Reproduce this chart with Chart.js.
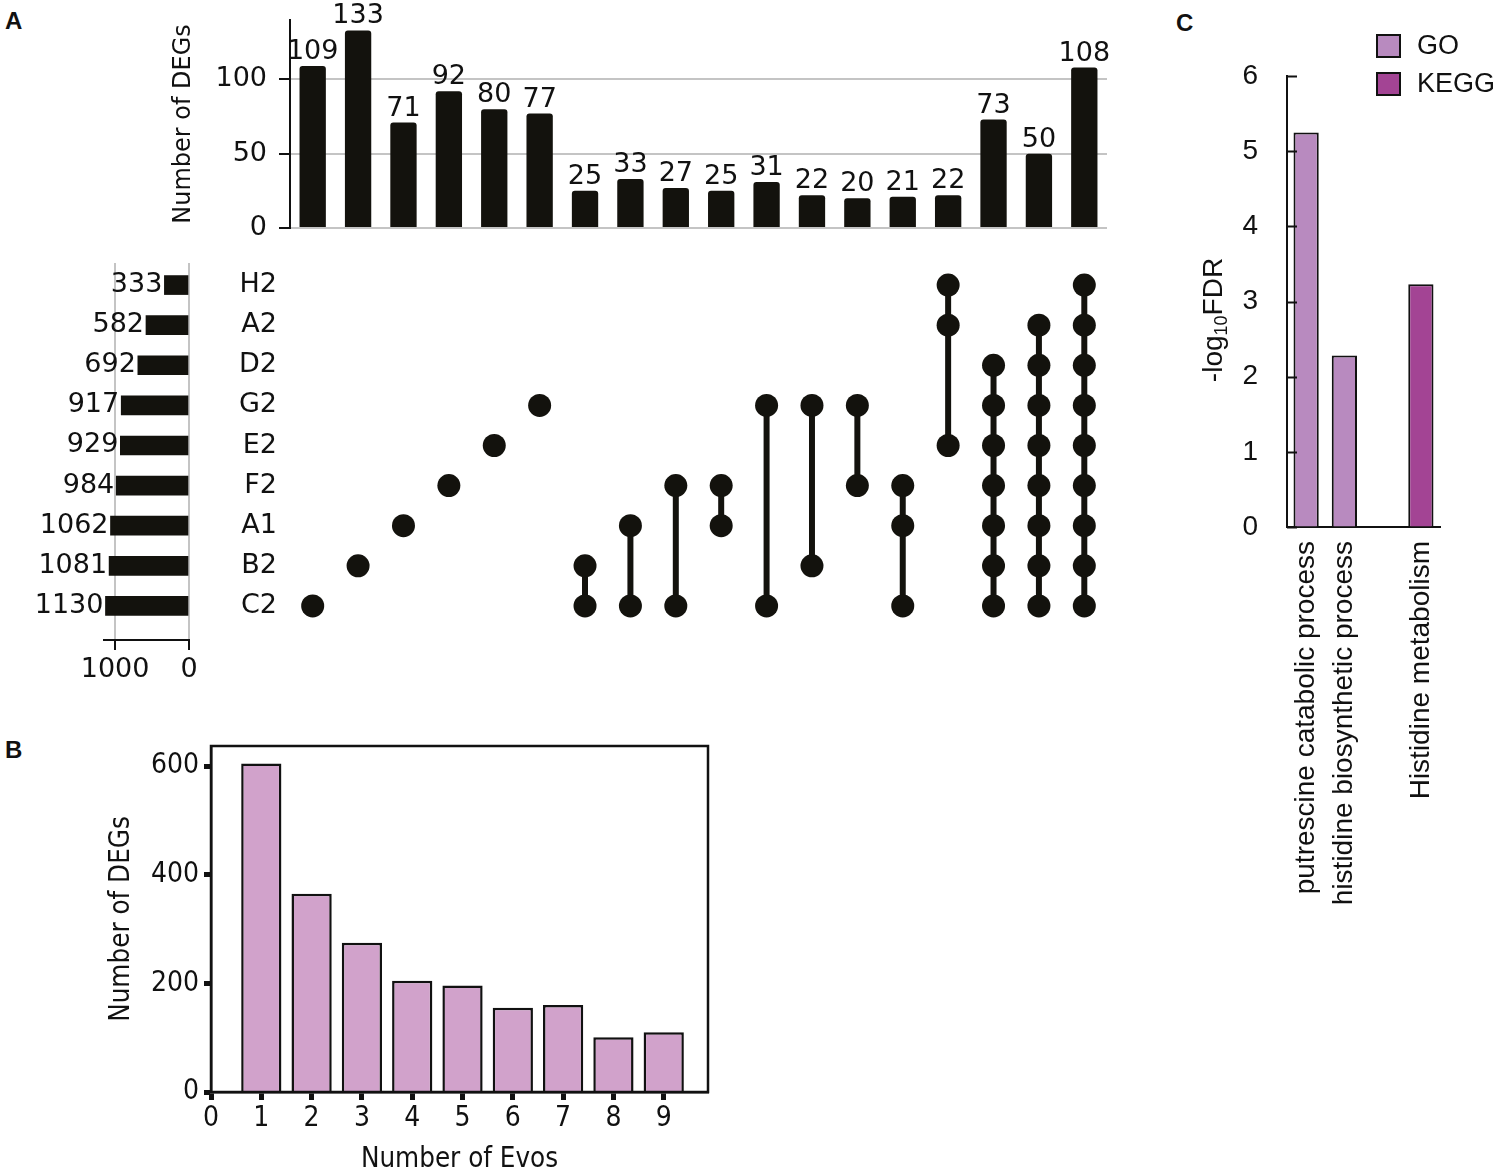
<!DOCTYPE html>
<html>
<head>
<meta charset="utf-8">
<script src="https://cdn.jsdelivr.net/npm/chart.js@4.4.1/dist/chart.umd.min.js"></script>
<style>
  body { margin: 0; background: #fff; width: 1500px; height: 1171px; position: relative; overflow: hidden; }
  canvas { position: absolute; }
  .panel { position: absolute; font: bold 24px "Liberation Sans", Arial, sans-serif; color: #111; }
</style>
</head>
<body>
<div class="panel" style="left:5px;top:7px">A</div>
<div class="panel" style="left:5px;top:736px">B</div>
<div class="panel" style="left:1176px;top:9px">C</div>

<canvas id="upset-bars" width="965" height="240" style="left:165px;top:0px"></canvas>
<canvas id="set-sizes" width="200" height="460" style="left:0px;top:240px"></canvas>
<canvas id="upset-matrix" width="930" height="420" style="left:200px;top:240px"></canvas>
<canvas id="evo-chart" width="730" height="446" style="left:0px;top:730px"></canvas>
<canvas id="enrich-chart" width="330" height="960" style="left:1170px;top:0px"></canvas>

<script>
// ---- panel A: intersections (left to right) ----
const combos = [
    ['C2'], ['B2'], ['A1'], ['F2'], ['E2'], ['G2'],
    ['B2', 'C2'], ['A1', 'C2'], ['F2', 'C2'], ['F2', 'A1'], ['G2', 'C2'], ['G2', 'B2'], ['G2', 'F2'],
    ['F2', 'A1', 'C2'], ['H2', 'A2', 'E2'],
    ['D2', 'G2', 'E2', 'F2', 'A1', 'B2', 'C2'],
    ['A2', 'D2', 'G2', 'E2', 'F2', 'A1', 'B2', 'C2'],
    ['H2', 'A2', 'D2', 'G2', 'E2', 'F2', 'A1', 'B2', 'C2']
];
const comboCounts = [109, 133, 71, 92, 80, 77, 25, 33, 27, 25, 31, 22, 20, 21, 22, 73, 50, 108];
const setNames = ['H2', 'A2', 'D2', 'G2', 'E2', 'F2', 'A1', 'B2', 'C2'];
const setSizes = [333, 582, 692, 917, 929, 984, 1062, 1081, 1130];
const countTicks = [0, 50, 100];
const sizeTicks = [1000, 0];

// ---- panel B ----
const evoCounts = [1, 2, 3, 4, 5, 6, 7, 8, 9];
const evoDegs = [605, 365, 275, 205, 196, 155, 160, 101, 110];
const evoTicks = [0, 1, 2, 3, 4, 5, 6, 7, 8, 9];
const degTicks = [0, 200, 400, 600];

// ---- panel C ----
const termLabels = ['putrescine catabolic process', 'histidine biosynthetic process', '', 'Histidine metabolism'];
const goValues = [5.25, 2.28, null, null];
const keggValues = [null, null, null, 3.23];

const INK = '#13120d';
const DEJAVU = '"DejaVu Sans", sans-serif';
const CONDENSED = '"DejaVu Sans Condensed", "Liberation Sans Narrow", "DejaVu Sans", sans-serif';
const ARIAL = '"Liberation Sans", Arial, sans-serif';

Chart.defaults.animation = false;
Chart.defaults.color = '#111';
Chart.defaults.plugins.legend.display = false;
Chart.defaults.plugins.tooltip.enabled = false;

// fixed axis sizes, and no extra room for labels hanging over the ends
const fixWidth = w => s => { s.width = w; s.paddingTop = 0; s.paddingBottom = 0; };
const fixHeight = h => s => { s.height = h; s.paddingLeft = 0; s.paddingRight = 0; };
const useTicks = list => s => { s.ticks = list.map(v => ({ value: v })); };

// value text on top of the intersection bars
const barValueLabels = {
    id: 'barValueLabels',
    afterDatasetsDraw(chart) {
        const c = chart.ctx;
        const meta = chart.getDatasetMeta(0);
        c.save();
        c.font = '27px ' + DEJAVU;
        c.fillStyle = '#111';
        c.textAlign = 'center';
        c.textBaseline = 'alphabetic';
        meta.data.forEach((el, i) => {
            c.fillText(comboCounts[i], el.x, el.y - 7);
        });
        c.restore();
    }
};

new Chart(document.getElementById('upset-bars'), {
    type: 'bar',
    data: {
        labels: comboCounts.map((_, i) => i + 1),
        datasets: [{
            data: comboCounts,
            backgroundColor: INK,
            barPercentage: 0.58,
            categoryPercentage: 1,
            borderRadius: 3
        }]
    },
    options: {
        responsive: false,
        layout: { padding: { top: 20, right: 23, bottom: 12, left: 0 } },
        scales: {
            x: { display: false },
            y: {
                min: 0,
                max: 140,
                afterBuildTicks: useTicks(countTicks),
                afterFit: fixWidth(125),
                ticks: { padding: 12, autoSkip: false, font: { size: 27, family: DEJAVU } },
                grid: { color: '#c4c4c4', lineWidth: 2, tickColor: '#111', tickWidth: 2, tickLength: 11 },
                border: { color: '#111', width: 2 },
                title: { display: true, text: 'Number of DEGs', font: { size: 24, family: DEJAVU } }
            }
        }
    },
    plugins: [barValueLabels]
});

// set size numbers left of the horizontal bars
const sizeLabels = {
    id: 'sizeLabels',
    afterDatasetsDraw(chart) {
        const c = chart.ctx;
        const meta = chart.getDatasetMeta(0);
        c.save();
        c.font = '27px ' + DEJAVU;
        c.fillStyle = '#111';
        c.textAlign = 'right';
        c.textBaseline = 'middle';
        meta.data.forEach((el, i) => {
            c.fillText(setSizes[i], el.x - 2, el.y);
        });
        c.restore();
    }
};

new Chart(document.getElementById('set-sizes'), {
    type: 'bar',
    data: {
        datasets: [{
            data: setSizes.map((v, i) => ({ x: v, y: i })),
            backgroundColor: INK,
            barThickness: 19
        }]
    },
    options: {
        responsive: false,
        indexAxis: 'y',
        layout: { padding: { top: 23, right: 11, bottom: 0, left: 104 } },
        scales: {
            y: { type: 'linear', reverse: true, min: -0.55, max: 8.85, offset: false, display: false },
            x: {
                type: 'linear',
                reverse: true,
                min: 0,
                max: 1150,
                afterBuildTicks: useTicks(sizeTicks),
                afterFit: fixHeight(60),
                ticks: { padding: 4, maxRotation: 0, autoSkip: false, callback: v => String(v), font: { size: 27, family: DEJAVU } },
                grid: { color: '#c4c4c4', lineWidth: 2, tickColor: '#111', tickWidth: 2, tickLength: 10 },
                border: { color: '#111', width: 2 }
            }
        }
    },
    plugins: [sizeLabels]
});

// dot matrix: one dataset per intersection, dots joined by a line
const matrixSets = combos.map((members, i) => ({
    data: members
        .slice()
        .sort((a, b) => setNames.indexOf(a) - setNames.indexOf(b))
        .map(name => ({ x: i, y: name })),
    showLine: true,
    borderColor: INK,
    borderWidth: 6,
    pointRadius: 11.5,
    pointBackgroundColor: INK,
    pointBorderWidth: 0
}));

new Chart(document.getElementById('upset-matrix'), {
    type: 'scatter',
    data: { datasets: matrixSets },
    options: {
        responsive: false,
        layout: { padding: { top: 25, right: 23, bottom: 34, left: 0 } },
        scales: {
            x: { type: 'linear', min: -0.5, max: 17.5, display: false },
            y: {
                type: 'category',
                labels: setNames,
                offset: true,
                afterFit: fixWidth(90),
                ticks: { padding: 13, autoSkip: false, font: { size: 27, family: DEJAVU } },
                grid: { display: false, drawTicks: false },
                border: { display: false }
            }
        }
    }
});

// ---- panel B ----
const boxFrame = {
    id: 'boxFrame',
    afterDraw(chart) {
        const { left, top, right, bottom } = chart.chartArea;
        const c = chart.ctx;
        c.save();
        c.strokeStyle = '#111';
        c.lineWidth = 2.5;
        c.strokeRect(left, top, right - left, bottom - top);
        c.restore();
    }
};

new Chart(document.getElementById('evo-chart'), {
    type: 'bar',
    data: {
        datasets: [{
            data: evoCounts.map((e, i) => ({ x: e, y: evoDegs[i] })),
            backgroundColor: '#d1a2cb',
            borderColor: '#111',
            borderWidth: 2.5,
            barPercentage: 0.8,
            categoryPercentage: 1
        }]
    },
    options: {
        responsive: false,
        layout: { padding: { top: 16, right: 22, bottom: 0, left: 101 } },
        scales: {
            x: {
                type: 'linear',
                min: 0,
                max: 9.88,
                offset: false,
                afterBuildTicks: useTicks(evoTicks),
                afterFit: fixHeight(84),
                ticks: { padding: 2, maxRotation: 0, autoSkip: false, font: { size: 28, family: CONDENSED } },
                grid: { offset: false, drawOnChartArea: false, tickColor: '#111', tickWidth: 5, tickLength: 8 },
                border: { color: '#111', width: 2.5 },
                title: { display: true, text: 'Number of Evos', padding: { top: 4, bottom: 0 }, font: { size: 27.5, family: CONDENSED } }
            },
            y: {
                min: 0,
                max: 637,
                afterBuildTicks: useTicks(degTicks),
                afterFit: fixWidth(110),
                ticks: { padding: 5, autoSkip: false, font: { size: 28, family: CONDENSED } },
                grid: { drawOnChartArea: false, tickColor: '#111', tickWidth: 5, tickLength: 7 },
                border: { color: '#111', width: 2.5 },
                title: { display: true, text: 'Number of DEGs', font: { size: 27.5, family: CONDENSED } }
            }
        }
    },
    plugins: [boxFrame]
});

// ---- panel C ----
const enrichDecor = {
    id: 'enrichDecor',
    afterDraw(chart) {
        const c = chart.ctx;
        const y = chart.scales.y;
        const left = chart.chartArea.left;
        c.save();
        // inward tick marks
        c.strokeStyle = '#111';
        c.lineWidth = 2;
        y.ticks.forEach(t => {
            const py = Math.round(y.getPixelForValue(t.value)) + 0.5;
            c.beginPath();
            c.moveTo(left, py);
            c.lineTo(left + 10, py);
            c.stroke();
        });
        // axis title with subscript
        c.translate(44, 320);
        c.rotate(-Math.PI / 2);
        c.fillStyle = '#111';
        c.textBaseline = 'middle';
        c.textAlign = 'left';
        const big = '28px ' + ARIAL, small = '18px ' + ARIAL;
        c.font = big; const w1 = c.measureText('-log').width; const w3 = c.measureText('FDR').width;
        c.font = small; const w2 = c.measureText('10').width;
        let x = -(w1 + w2 + w3) / 2;
        c.font = big; c.fillText('-log', x, 0); x += w1;
        c.font = small; c.fillText('10', x, 8); x += w2;
        c.font = big; c.fillText('FDR', x, 0);
        c.restore();

        // legend
        c.save();
        c.font = '27px ' + ARIAL;
        c.textBaseline = 'middle';
        c.textAlign = 'left';
        chart.data.datasets.forEach((ds, i) => {
            const top = 35 + i * 38;
            c.fillStyle = ds.backgroundColor;
            c.fillRect(207, top, 23, 22);
            c.strokeStyle = '#111';
            c.lineWidth = 2;
            c.strokeRect(207, top, 23, 22);
            c.fillStyle = '#111';
            c.fillText(ds.label, 247, top + 12);
        });
        c.restore();
    }
};

new Chart(document.getElementById('enrich-chart'), {
    type: 'bar',
    data: {
        labels: termLabels,
        datasets: [
            { label: 'GO', data: goValues, backgroundColor: '#b88abf', borderColor: '#111', borderWidth: 2, grouped: false, barPercentage: 0.66, categoryPercentage: 1 },
            { label: 'KEGG', data: keggValues, backgroundColor: '#a34494', borderColor: '#111', borderWidth: 2, grouped: false, barPercentage: 0.66, categoryPercentage: 1 }
        ]
    },
    options: {
        responsive: false,
        layout: { padding: { top: 76, right: 60, bottom: 0, left: 0 } },
        scales: {
            x: {
                afterFit: fixHeight(433),
                ticks: { minRotation: 90, maxRotation: 90, autoSkip: false, padding: 14, font: { size: 28, family: ARIAL } },
                grid: { display: false, drawTicks: false },
                border: { color: '#111', width: 2 }
            },
            y: {
                min: 0,
                max: 6,
                afterFit: fixWidth(117),
                ticks: { stepSize: 1, padding: 29, autoSkip: false, font: { size: 28, family: ARIAL } },
                grid: { drawOnChartArea: false, drawTicks: false },
                border: { color: '#111', width: 2 }
            }
        }
    },
    plugins: [enrichDecor]
});
</script>
</body>
</html>
